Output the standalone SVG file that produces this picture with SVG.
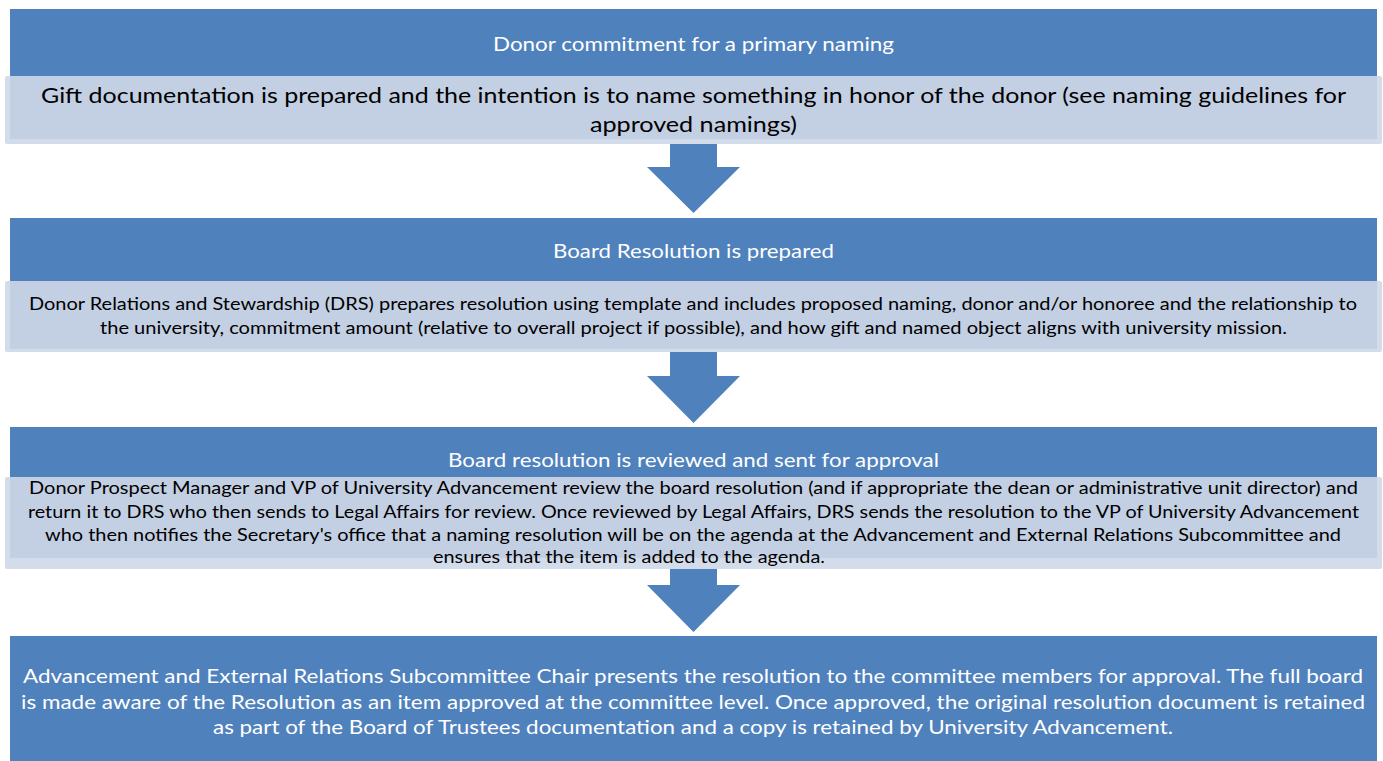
<svg xmlns="http://www.w3.org/2000/svg" width="1383" height="761" viewBox="0 0 1383 761">
  <style>
    .head { fill: #4f81bd; }
    .glow { fill: #d3dcea; }
    .body { fill: #c3cfe3; }
    .arrow { fill: #4f81bd; }
    text { font-family: Lato, "Liberation Sans", sans-serif; }
    .t { fill: #ffffff; font-size: 19px; }
    .d { fill: #000000; font-size: 17px; }
    .g { fill: #000000; font-size: 21px; }
    .w { fill: #ffffff; font-size: 19px; }
  </style>
  <rect width="1383" height="761" fill="#ffffff"/>

  <g id="connectors">
    <polygon class="arrow" points="670,143 717,143 717,167 740,167 693.5,213 647,167 670,167"/>
    <polygon class="arrow" points="670,352 717,352 717,376 740,376 693.5,423 647,376 670,376"/>
    <polygon class="arrow" points="670,569 717,569 717,585 740,585 693.5,632 647,585 670,585"/>
  </g>

  <g id="step1">
    <rect class="head" x="10" y="9" width="1367" height="67"/>
    <text class="t" x="493" y="51" textLength="401" lengthAdjust="spacingAndGlyphs">Donor commitment for a primary naming</text>
    <rect class="glow" x="5" y="76" width="1377" height="68" rx="2"/>
    <rect class="body" x="10" y="76" width="1367" height="63"/>
    <text class="g" x="41" y="103" textLength="1305" lengthAdjust="spacingAndGlyphs">Gift documentation is prepared and the intention is to name something in honor of the donor (see naming guidelines for</text>
    <text class="g" x="590" y="132" textLength="207" lengthAdjust="spacingAndGlyphs">approved namings)</text>
  </g>

  <g id="step2">
    <rect class="head" x="10" y="218" width="1367" height="63"/>
    <text class="t" x="553" y="258" textLength="281" lengthAdjust="spacingAndGlyphs">Board Resolution is prepared</text>
    <rect class="glow" x="5" y="281" width="1377" height="71" rx="2"/>
    <rect class="body" x="10" y="281" width="1367" height="68"/>
    <text class="d" x="29" y="310" textLength="1328" lengthAdjust="spacingAndGlyphs">Donor Relations and Stewardship (DRS) prepares resolution using template and includes proposed naming, donor and/or honoree and the relationship to</text>
    <text class="d" x="100" y="334" textLength="1187" lengthAdjust="spacingAndGlyphs">the university, commitment amount (relative to overall project if possible), and how gift and named object aligns with university mission.</text>
  </g>

  <g id="step3">
    <rect class="head" x="10" y="427" width="1367" height="50"/>
    <text class="t" x="448" y="467" textLength="491" lengthAdjust="spacingAndGlyphs">Board resolution is reviewed and sent for approval</text>
    <rect class="glow" x="5" y="477" width="1377" height="92" rx="2"/>
    <rect class="body" x="10" y="477" width="1367" height="81"/>
    <text class="d" x="29" y="494" textLength="1329" lengthAdjust="spacingAndGlyphs">Donor Prospect Manager and VP of University Advancement review the board resolution (and if appropriate the dean or administrative unit director) and</text>
    <text class="d" x="28" y="518" textLength="1331" lengthAdjust="spacingAndGlyphs">return it to DRS who then sends to Legal Affairs for review. Once reviewed by Legal Affairs, DRS sends the resolution to the VP of University Advancement</text>
    <text class="d" x="45" y="541" textLength="1296" lengthAdjust="spacingAndGlyphs">who then notifies the Secretary's office that a naming resolution will be on the agenda at the Advancement and External Relations Subcommittee and</text>
    <text class="d" x="433" y="563" textLength="392" lengthAdjust="spacingAndGlyphs">ensures that the item is added to the agenda.</text>
  </g>

  <g id="step4">
    <rect class="head" x="10" y="636" width="1367" height="130"/>
    <text class="w" x="23" y="683" textLength="1340" lengthAdjust="spacingAndGlyphs">Advancement and External Relations Subcommittee Chair presents the resolution to the committee members for approval. The full board</text>
    <text class="w" x="21" y="709" textLength="1344" lengthAdjust="spacingAndGlyphs">is made aware of the Resolution as an item approved at the committee level. Once approved, the original resolution document is retained</text>
    <text class="w" x="213" y="734" textLength="960" lengthAdjust="spacingAndGlyphs">as part of the Board of Trustees documentation and a copy is retained by University Advancement.</text>
  </g>
</svg>
